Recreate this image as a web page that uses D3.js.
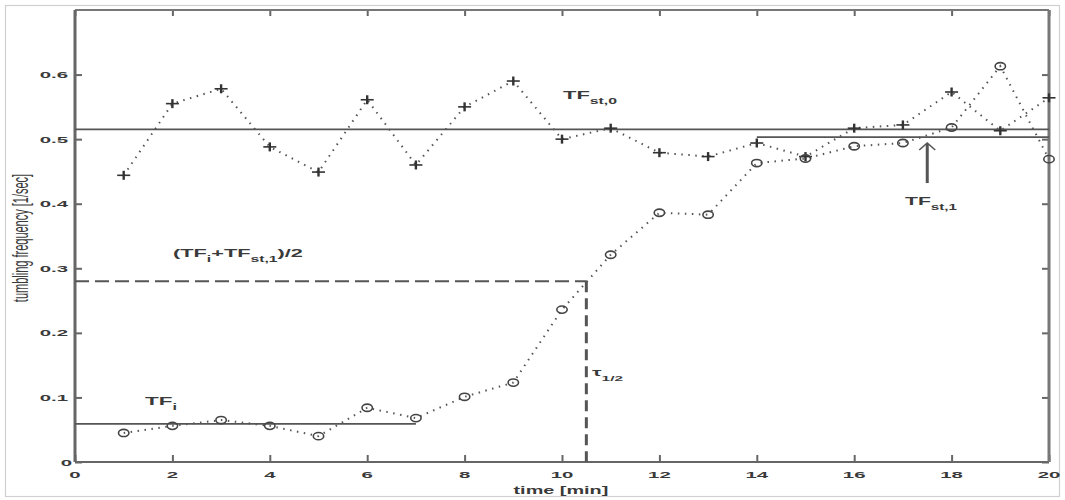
<!DOCTYPE html>
<html><head><meta charset="utf-8">
<script src="https://cdn.jsdelivr.net/npm/d3@7"></script>
<style>html,body{margin:0;padding:0;background:#fff;}svg{display:block;font-family:"Liberation Sans",Arial,sans-serif;}</style>
</head><body>
<svg id="c" width="1065" height="500"></svg>
<script>
// ---- data ----
const minutes = [1,2,3,4,5,6,7,8,9,10,11,12,13,14,15,16,17,18,19,20];
const tfPlus   = [0.444,0.555,0.578,0.488,0.449,0.561,0.460,0.550,0.590,0.500,0.517,0.479,0.473,0.494,0.473,0.517,0.522,0.573,0.513,0.564];
const tfCircle = [0.045,0.056,0.065,0.056,0.040,0.084,0.068,0.101,0.123,0.236,0.321,0.386,0.383,0.463,0.470,0.489,0.494,0.518,0.613,0.469];
const xTicks = [0,2,4,6,8,10,12,14,16,18,20];
const yTicks = [0,0.1,0.2,0.3,0.4,0.5,0.6];
const tfSt0 = 0.515, tfSt0Span = [0,20];
const tfSt1 = 0.503, tfSt1Span = [14,20];
const tfI = 0.059, tfISpan = [0,7];
const tauHalf = 10.5;
const halfLevel = 0.28;
const arrowX = 17.5, arrowFrom = 0.432, arrowTo = 0.494;

// ---- layout ----
const svg = d3.select("#c");
const L = 75, R = 1049, T = 10, B = 462;
const x = d3.scaleLinear().domain([0,20]).range([L,R]);
const y = d3.scaleLinear().domain([0,0.7]).range([B,T]);
const ink = "#3a3a3a";

// outer light frame
svg.append("rect").attr("x",5.5).attr("y",5.5).attr("width",1054).attr("height",491)
  .attr("fill","none").attr("stroke","#d0d0d0").attr("stroke-width",1.2);

// axes (inward ticks)
const tickLen = 7;
const axB = d3.axisBottom(x).tickValues(xTicks).tickSize(-tickLen).tickFormat("");
const axT = d3.axisTop(x).tickValues(xTicks).tickSize(-6).tickFormat("");
const axL = d3.axisLeft(y).tickValues(yTicks).tickSize(-tickLen).tickFormat("");
const axR = d3.axisRight(y).tickValues(yTicks).tickSize(-tickLen).tickFormat("");
function styleAx(g){ g.selectAll("path").remove(); g.selectAll("line").attr("stroke","#666").attr("stroke-width",2); }
svg.append("g").attr("transform",`translate(0,${B})`).call(axB).call(styleAx);
svg.append("g").attr("transform",`translate(0,${T})`).call(axT).call(styleAx);
svg.append("g").attr("transform",`translate(${L},0)`).call(axL).call(styleAx);
svg.append("g").attr("transform",`translate(${R},0)`).call(axR).call(styleAx);
// frame
svg.append("line").attr("x1",L).attr("x2",R).attr("y1",B).attr("y2",B).attr("stroke","#666").attr("stroke-width",2.2);
svg.append("line").attr("x1",L).attr("x2",R).attr("y1",T).attr("y2",T).attr("stroke","#777").attr("stroke-width",1.8);
svg.append("line").attr("x1",L).attr("x2",L).attr("y1",T).attr("y2",B).attr("stroke","#666").attr("stroke-width",3);
svg.append("line").attr("x1",R).attr("x2",R).attr("y1",T).attr("y2",B).attr("stroke","#777").attr("stroke-width",3);

// stretched text helper
function stext(px, py, parts, size, targetW, anchor){
  const g = svg.append("g");
  const t = g.append("text").attr("fill",ink).attr("font-size",size).attr("font-weight","bold");
  parts.forEach(p=>{
    const s = t.append("tspan").text(p.t);
    if(p.sub){ s.attr("font-size",size*0.72).attr("dy",p.dy); }
    else if(p.dy){ s.attr("dy",p.dy); }
  });
  const w = t.node().getComputedTextLength();
  const sx = targetW / w;
  let ox = px;
  if(anchor==="end") ox = px - targetW;
  else if(anchor==="middle") ox = px - targetW/2;
  g.attr("transform",`translate(${ox},${py}) scale(${sx},1)`);
  return g;
}

// tick labels
const tickSx = 2.15;
yTicks.forEach(v=>{
  const lab = v===0 ? "0" : d3.format(".1f")(v);
  const g = svg.append("g");
  const t = g.append("text").text(lab).attr("fill",ink).attr("font-size",9.5).attr("font-weight","bold").attr("text-anchor","end");
  g.attr("transform",`translate(${v===0?72:68},${y(v)+3.6}) scale(${tickSx},1)`);
});
xTicks.forEach(v=>{
  const g = svg.append("g");
  g.append("text").text(v).attr("fill",ink).attr("font-size",9.5).attr("font-weight","bold").attr("text-anchor","middle");
  g.attr("transform",`translate(${x(v)},478) scale(${tickSx},1)`);
});

// axis titles
stext(561, 494, [{t:"time [min]"}], 10.5, 95, "middle");
svg.append("text").text("tumbling frequency [1/sec]")
  .attr("transform",`translate(28,238) rotate(-90) scale(1,2)`)
  .attr("text-anchor","middle").attr("font-size",11).attr("fill",ink);

// reference lines
function hline(v, span, dash, w){
  svg.append("line").attr("x1",x(span[0])).attr("x2",x(span[1])).attr("y1",y(v)).attr("y2",y(v))
    .attr("stroke","#555").attr("stroke-width",w).attr("stroke-dasharray",dash||null);
}
hline(tfSt0, tfSt0Span, null, 1.8);
hline(tfSt1, tfSt1Span, null, 1.8);
hline(tfI, tfISpan, null, 1.8);
hline(halfLevel, [0,tauHalf], "14,6", 2);
svg.append("line").attr("x1",x(tauHalf)).attr("x2",x(tauHalf)).attr("y1",y(halfLevel)).attr("y2",y(0))
  .attr("stroke","#555").attr("stroke-width",3).attr("stroke-dasharray","11,6");

// dotted series lines
const line = d3.line().x((d,i)=>x(minutes[i])).y(d=>y(d));
[tfPlus, tfCircle].forEach(s=>{
  svg.append("path").attr("d",line(s)).attr("fill","none").attr("stroke","#555")
    .attr("stroke-width",2).attr("stroke-dasharray","1.5,5.5");
});

// markers
const plus = svg.append("g").attr("stroke","#333").attr("stroke-width",1.6);
tfPlus.forEach((v,i)=>{
  const cx = x(minutes[i]), cy = y(v);
  plus.append("line").attr("x1",cx-6.5).attr("x2",cx+6.5).attr("y1",cy).attr("y2",cy);
  plus.append("line").attr("x1",cx).attr("x2",cx).attr("y1",cy-4.5).attr("y2",cy+4.5).attr("stroke-width",2.4);
});
svg.append("g").selectAll("ellipse").data(tfCircle).join("ellipse")
  .attr("cx",(d,i)=>x(minutes[i])).attr("cy",d=>y(d)).attr("rx",5.2).attr("ry",3.6)
  .attr("fill","none").attr("stroke","#444").attr("stroke-width",1.6);

// arrow
svg.append("line").attr("x1",x(arrowX)).attr("x2",x(arrowX)).attr("y1",y(arrowFrom)).attr("y2",y(arrowTo)+1)
  .attr("stroke","#555").attr("stroke-width",3);
svg.append("path").attr("d",`M${x(arrowX)-8},${y(arrowTo)+7} L${x(arrowX)},${y(arrowTo)} L${x(arrowX)+8},${y(arrowTo)+7}`)
  .attr("fill","none").attr("stroke","#555").attr("stroke-width",1.6);

// annotations
stext(563, 99, [{t:"TF"},{t:"st,0",sub:true,dy:5}], 11.5, 54, "start");
stext(905, 205, [{t:"TF"},{t:"st,1",sub:true,dy:5}], 11.5, 52, "start");
stext(145, 405, [{t:"TF"},{t:"i",sub:true,dy:5}], 11.5, 32, "start");
stext(173, 257, [{t:"(TF"},{t:"i",sub:true,dy:5},{t:"+TF",dy:-5},{t:"st,1",sub:true,dy:5},{t:")/2",dy:-5}], 11.5, 130, "start");
stext(592, 376, [{t:"τ"},{t:"1/2",sub:true,dy:5}], 11, 31, "start");
</script>
</body></html>
